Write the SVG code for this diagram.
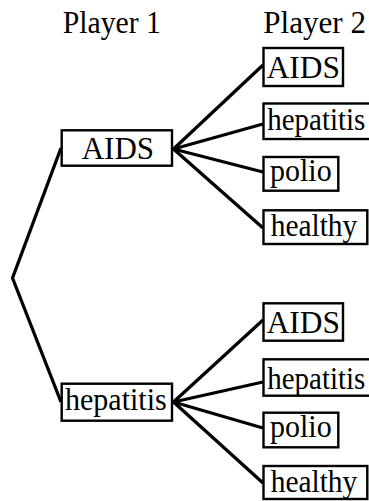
<svg xmlns="http://www.w3.org/2000/svg" width="369" height="501" viewBox="0 0 369 501">
  <style>
    .box { fill: #ffffff; stroke: #000000; stroke-width: 2.4; }
    .lbl, .hdr { font-family: "Liberation Serif", "Times New Roman", serif; font-size: 32px; fill: #000000; }
    .edge { fill: none; stroke: #000000; stroke-width: 3.3; stroke-linejoin: round; }
  </style>
  <rect width="369" height="501" fill="#ffffff"/>

  <!-- column headings -->
  <text class="hdr" x="62.7" y="33" textLength="98.3" lengthAdjust="spacingAndGlyphs">Player 1</text>
  <text class="hdr" x="263.3" y="33" textLength="102.7" lengthAdjust="spacingAndGlyphs">Player 2</text>

  <!-- tree edges -->
  <g id="connectors">
    <polyline class="edge" points="61,148 12.5,278 61,402"/>
    <line class="edge" x1="173.5" y1="149" x2="263" y2="65"/>
    <line class="edge" x1="173.5" y1="149" x2="263" y2="124"/>
    <line class="edge" x1="173.5" y1="149" x2="263" y2="172"/>
    <line class="edge" x1="173.5" y1="149" x2="263" y2="228"/>
    <line class="edge" x1="173.5" y1="402" x2="263" y2="320"/>
    <line class="edge" x1="173.5" y1="402" x2="263" y2="382"/>
    <line class="edge" x1="173.5" y1="402" x2="263" y2="428"/>
    <line class="edge" x1="173.5" y1="402" x2="263" y2="483"/>
  </g>

  <!-- Player 1 choices -->
  <g id="p1-aids">
    <rect class="box" x="61.7" y="130.3" width="110.3" height="35.4"/>
    <text class="lbl" x="81.7" y="159.3" textLength="72.3" lengthAdjust="spacingAndGlyphs">AIDS</text>
  </g>
  <g id="p1-hepatitis">
    <rect class="box" x="61.7" y="383.7" width="110.3" height="37"/>
    <text class="lbl" x="65" y="410" textLength="101.7" lengthAdjust="spacingAndGlyphs">hepatitis</text>
  </g>

  <!-- Player 2 choices after AIDS -->
  <g id="p2a-aids">
    <rect class="box" x="263.5" y="48" width="79.5" height="38"/>
    <text class="lbl" x="266.7" y="78" textLength="73.3" lengthAdjust="spacingAndGlyphs">AIDS</text>
  </g>
  <g id="p2a-hepatitis">
    <rect class="box" x="263.5" y="103.5" width="107" height="35.5"/>
    <text class="lbl" x="267.3" y="130" textLength="98" lengthAdjust="spacingAndGlyphs">hepatitis</text>
  </g>
  <g id="p2a-polio">
    <rect class="box" x="263.5" y="157" width="74.8" height="33.7"/>
    <text class="lbl" x="270" y="181" textLength="61.7" lengthAdjust="spacingAndGlyphs">polio</text>
  </g>
  <g id="p2a-healthy">
    <rect class="box" x="263.5" y="210.3" width="103.8" height="33.7"/>
    <text class="lbl" x="270.7" y="236" textLength="86.6" lengthAdjust="spacingAndGlyphs">healthy</text>
  </g>

  <!-- Player 2 choices after hepatitis -->
  <g id="p2h-aids">
    <rect class="box" x="263.5" y="303.3" width="79.5" height="37.4"/>
    <text class="lbl" x="266.7" y="333" textLength="73.3" lengthAdjust="spacingAndGlyphs">AIDS</text>
  </g>
  <g id="p2h-hepatitis">
    <rect class="box" x="263.5" y="359.3" width="107" height="36.4"/>
    <text class="lbl" x="267.3" y="389" textLength="98" lengthAdjust="spacingAndGlyphs">hepatitis</text>
  </g>
  <g id="p2h-polio">
    <rect class="box" x="263.5" y="412.7" width="74.8" height="34.6"/>
    <text class="lbl" x="270" y="437" textLength="61.7" lengthAdjust="spacingAndGlyphs">polio</text>
  </g>
  <g id="p2h-healthy">
    <rect class="box" x="263.5" y="466" width="103.8" height="33"/>
    <text class="lbl" x="270.7" y="491.7" textLength="86.6" lengthAdjust="spacingAndGlyphs">healthy</text>
  </g>
</svg>
